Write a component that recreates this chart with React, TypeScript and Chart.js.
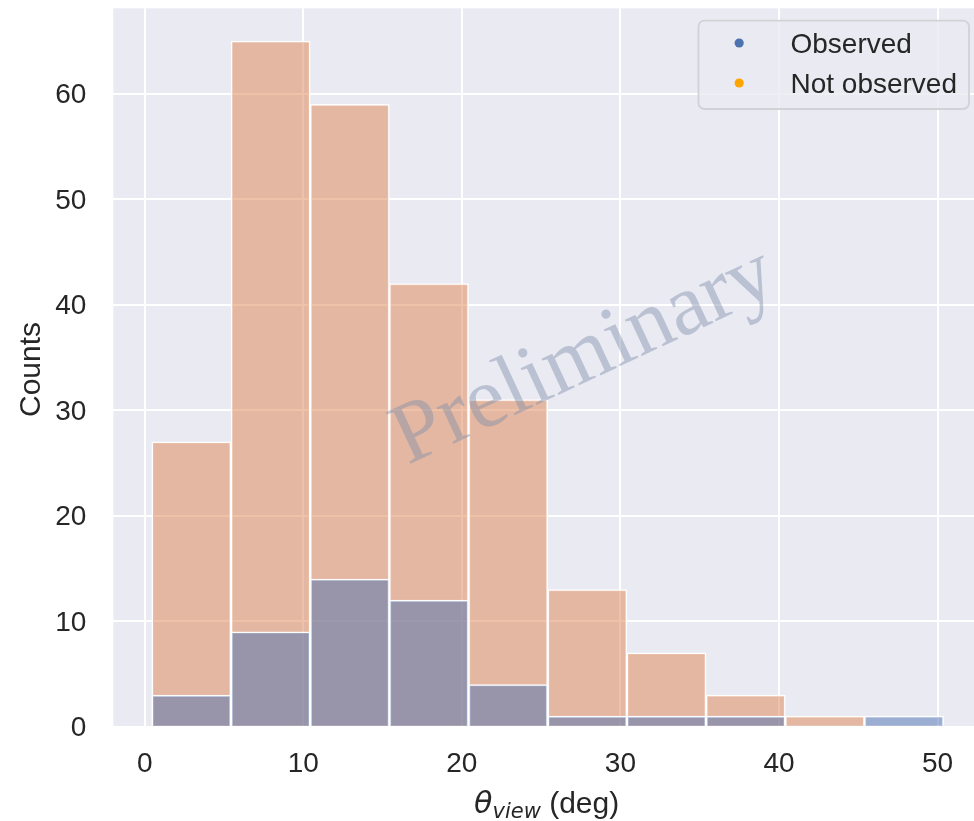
import React, { useEffect, useRef } from 'react';
import { Chart, registerables } from 'chart.js';

Chart.register(...registerables);

// Histogram bins of the viewing angle (deg)
const binEdges = [0.45, 5.44, 10.44, 15.43, 20.42, 25.42, 30.41, 35.4, 40.4, 45.39, 50.38];
const observedCounts = [3, 9, 14, 12, 4, 1, 1, 1, 0, 1];
const notObservedCounts = [27, 65, 59, 42, 31, 13, 7, 3, 1, 0];

const xTicks = [0, 10, 20, 30, 40, 50];
const yTicks = [0, 10, 20, 30, 40, 50, 60];
const xRange = [-1.98, 52.93];
const yRange = [0, 68.1];

const seriesLabels = ['Observed', 'Not observed'];
const legendColors = ['#4C72B0', '#FFA500'];
const watermarkText = 'Preliminary';

const SANS = '"Liberation Sans", Arial, sans-serif';
const TEXT_COLOR = '#262626';

const binCenters = binEdges.slice(0, -1).map((e, i) => (e + binEdges[i + 1]) / 2);
const toPoints = (counts: number[]) =>
  binCenters.map((x, i) => ({ x, y: counts[i] > 0 ? counts[i] : null }));

const plotBackground = {
  id: 'plotBackground',
  beforeDraw(chart: any) {
    const { ctx, chartArea: a } = chart;
    ctx.save();
    ctx.fillStyle = '#EAEAF2';
    ctx.fillRect(a.left, a.top, a.right - a.left, a.bottom - a.top);
    ctx.restore();
  },
};

const watermark = {
  id: 'watermark',
  afterDatasetsDraw(chart: any) {
    const { ctx, chartArea: a } = chart;
    const w = a.right - a.left;
    const h = a.bottom - a.top;
    ctx.save();
    ctx.translate(a.left + 0.552 * w, a.top + 0.515 * h);
    ctx.rotate((-25 * Math.PI) / 180);
    ctx.font = '87px "Liberation Serif", "Times New Roman", serif';
    ctx.fillStyle = 'rgba(128,145,170,0.45)';
    ctx.textAlign = 'center';
    ctx.textBaseline = 'alphabetic';
    ctx.fillText(watermarkText, 0, 0);
    ctx.restore();
  },
};

const axisTitles = {
  id: 'axisTitles',
  afterDraw(chart: any) {
    const { ctx, chartArea: a } = chart;
    ctx.save();
    ctx.fillStyle = TEXT_COLOR;
    ctx.textBaseline = 'alphabetic';

    // y title
    ctx.save();
    ctx.translate(40, (a.top + a.bottom) / 2 + 2);
    ctx.rotate(-Math.PI / 2);
    ctx.textAlign = 'center';
    ctx.font = `30px ${SANS}`;
    ctx.fillText('Counts', 0, 0);
    ctx.restore();

    // x title: θ_view (deg)
    const mathFont = 'italic 30px "DejaVu Sans", sans-serif';
    const subFont = 'italic 21px "DejaVu Sans", sans-serif';
    const textFont = `30px ${SANS}`;
    ctx.textAlign = 'left';
    ctx.font = mathFont;
    const w1 = ctx.measureText('θ').width;
    ctx.font = subFont;
    const w2 = ctx.measureText('view').width;
    ctx.font = textFont;
    const w3 = ctx.measureText(' (deg)').width;
    const total = w1 + w2 + w3;
    let x = (a.left + a.right) / 2 - total / 2 - 2;
    const base = a.bottom + 86.5;
    ctx.font = mathFont;
    ctx.fillText('θ', x, base);
    x += w1;
    ctx.font = subFont;
    ctx.fillText('view', x, base + 5);
    x += w2;
    ctx.font = textFont;
    ctx.fillText(' (deg)', x, base);
    ctx.restore();
  },
};

const legendBox = {
  id: 'legendBox',
  afterDraw(chart: any) {
    const { ctx, chartArea: a } = chart;
    ctx.save();
    ctx.font = `28px ${SANS}`;
    const maxW = Math.max(...seriesLabels.map((t) => ctx.measureText(t).width));
    const boxW = 92 + maxW + 12;
    const boxH = 88.3;
    const right = a.right - 15;
    const left = right - boxW;
    const top = a.top + 12.4;

    ctx.beginPath();
    ctx.roundRect(left, top, boxW, boxH, 6);
    ctx.fillStyle = 'rgba(234,234,242,0.8)';
    ctx.fill();
    ctx.lineWidth = 1.8;
    ctx.strokeStyle = 'rgb(210,210,214)';
    ctx.stroke();

    seriesLabels.forEach((label, i) => {
      const cy = top + 22.3 + i * 40;
      ctx.beginPath();
      ctx.arc(left + 40.7, cy, 4.6, 0, Math.PI * 2);
      ctx.fillStyle = legendColors[i];
      ctx.fill();
      ctx.fillStyle = TEXT_COLOR;
      ctx.textAlign = 'left';
      ctx.textBaseline = 'alphabetic';
      ctx.fillText(label, left + 92, cy + 10.3);
    });
    ctx.restore();
  },
};

export default function App() {
  const canvasRef = useRef<HTMLCanvasElement>(null);

  useEffect(() => {
    document.body.style.margin = '0';
    const canvas = canvasRef.current;
    if (!canvas) return;

    const chart = new Chart(canvas, {
      type: 'bar',
      data: {
        datasets: [
          {
            label: seriesLabels[0],
            data: toPoints(observedCounts) as any,
            backgroundColor: 'rgba(76,114,176,0.5)',
            borderColor: 'rgba(255,255,255,0.95)',
            borderWidth: 1.5,
            grouped: false,
            categoryPercentage: 1,
            barPercentage: 1,
          },
          {
            label: seriesLabels[1],
            data: toPoints(notObservedCounts) as any,
            backgroundColor: 'rgba(221,132,82,0.5)',
            borderColor: 'rgba(255,255,255,0.95)',
            borderWidth: 1.5,
            grouped: false,
            categoryPercentage: 1,
            barPercentage: 1,
          },
        ],
      },
      options: {
        responsive: false,
        animation: false,
        layout: { padding: { top: 8.3, left: 0, right: 0, bottom: 0 } },
        plugins: {
          legend: { display: false },
          tooltip: { enabled: false },
        },
        scales: {
          x: {
            type: 'linear',
            min: xRange[0],
            max: xRange[1],
            offset: false,
            grid: { color: '#FFFFFF', lineWidth: 2, drawTicks: false, offset: false },
            border: { display: false },
            ticks: {
              padding: 21,
              color: TEXT_COLOR,
              font: { family: SANS, size: 28 },
              maxRotation: 0,
              autoSkip: false,
            },
            afterBuildTicks: (scale: any) => {
              scale.ticks = xTicks.map((value) => ({ value }));
            },
            afterFit: (scale: any) => {
              scale.height = 94.3;
              scale.paddingLeft = 0;
              scale.paddingRight = 0;
            },
          },
          y: {
            type: 'linear',
            min: yRange[0],
            max: yRange[1],
            grid: { color: '#FFFFFF', lineWidth: 2, drawTicks: false },
            border: { display: false },
            ticks: {
              padding: 27,
              labelOffset: 2,
              color: TEXT_COLOR,
              font: { family: SANS, size: 28 },
              autoSkip: false,
            },
            afterBuildTicks: (scale: any) => {
              scale.ticks = yTicks.map((value) => ({ value }));
            },
            afterFit: (scale: any) => {
              scale.width = 113.3;
              scale.paddingTop = 0;
              scale.paddingBottom = 0;
            },
          },
        },
      } as any,
      plugins: [plotBackground, watermark, axisTitles, legendBox],
    });

    return () => chart.destroy();
  }, []);

  return (
    <div style={{ width: 974, height: 821, overflow: 'hidden', position: 'relative' }}>
      <canvas
        ref={canvasRef}
        width={984}
        height={821}
        style={{ display: 'block', width: 984, height: 821 }}
      />
    </div>
  );
}
